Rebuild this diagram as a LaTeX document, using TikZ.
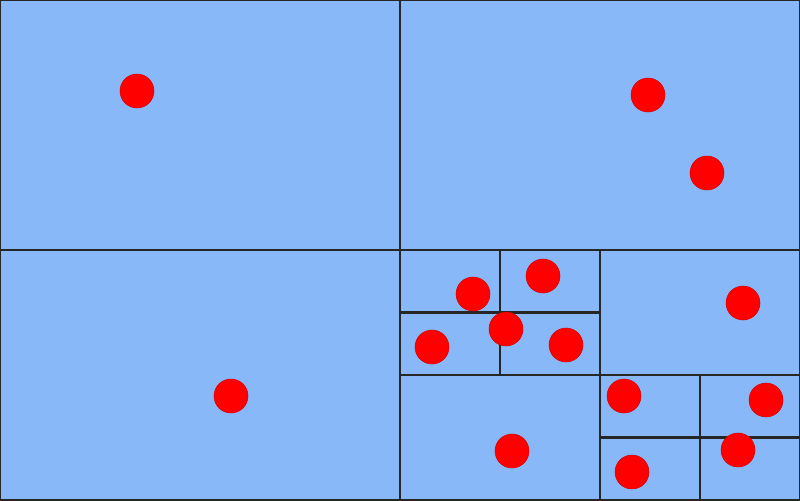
\documentclass[tikz,border=0pt]{standalone}
\usepackage{xcolor}
\usepackage{tikz}
\definecolor{cellblue}{HTML}{88B8F8}
\tikzset{
  cell/.style={draw=black!85, fill=cellblue, line width=1.2pt},
  pt/.style={fill=red, draw=red!85!black, line width=0.3pt},
}

\begin{document}
\begin{tikzpicture}[x=0.02cm, y=-0.02cm]
  \useasboundingbox (0,0) rectangle (800,500);
  % top level
  \draw[cell] (0,0) rectangle (400,250);
  \draw[cell] (400,0) rectangle (800,250);
  \draw[cell] (0,250) rectangle (400,500);
  % bottom right quadrant
  \draw[cell] (600,250) rectangle (800,375);
  \draw[cell] (400,375) rectangle (600,500);
  \foreach \cx/\cy in {400/250, 500/250, 400/312.5, 500/312.5,
                       600/375, 700/375, 600/437.5, 700/437.5}
    \draw[cell] (\cx,\cy) rectangle ++(100,62.5);
  % points
  \foreach \px/\py in {137/91, 648/95, 707/173, 231/396, 473/294, 543/276,
                       506/329, 432/347, 566/345, 743/303, 624/396, 766/400,
                       738/450, 632/472, 512/451}
    \fill[pt] (\px,\py) circle[radius=0.34cm];
\end{tikzpicture}
\end{document}
